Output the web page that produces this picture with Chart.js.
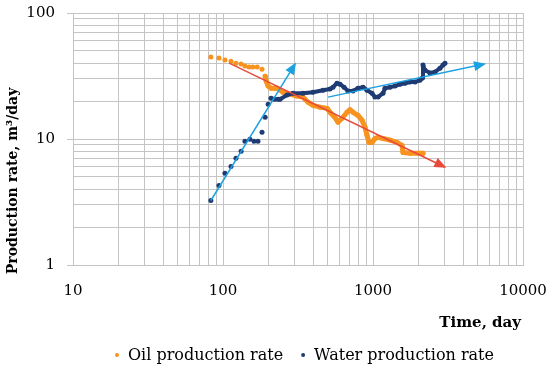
<!DOCTYPE html>
<html><head><meta charset="utf-8">
<script src="https://cdn.jsdelivr.net/npm/chart.js@4"></script>
<style>html,body{margin:0;padding:0;background:#fff;}canvas{display:block;}</style>
</head><body>
<canvas id="c" width="550" height="372"></canvas>
<script>
// ---- data ----
const oilDays = [83,94,103,113,122,132,140,149,158,169,182,191,194,200,209,222,229,251,280,311,341,369,398,443,494,517,541,575,584,622,671,702,736,794,845,885,912,940,985,1031,1080,1166,1298,1445,1561,1585,1765,2056,2154];
const oilRate = [44.7,43.9,42.3,41.5,40.0,39.3,37.9,37.2,37.2,37.2,35.8,31.5,28.8,26.3,25.3,25.3,25.3,23.5,22.7,21.9,21.5,19.6,18.5,17.9,17.5,16.3,15.4,14.1,13.6,14.6,16.3,17.1,16.3,15.4,14.1,12.4,10.7,9.4,9.4,10.1,10.3,10.1,9.8,9.4,8.9,7.8,7.7,7.7,7.7];
const waterDays = [83,94,103,113,122,132,140,151,161,171,182,191,200,209,219,233,240,267,293,341,398,464,517,541,575,603,641,681,736,794,858,912,985,1031,1080,1166,1202,1298,1402,1514,1634,1765,1905,2056,2122,2154,2222,2399,2590,2797,2929,3020];
const waterRate = [3.25,4.28,5.34,6.06,7.02,7.98,9.59,9.95,9.59,9.59,11.3,14.9,18.9,21.1,20.7,20.7,20.7,22.3,23.1,23.1,23.5,24.4,24.9,25.8,27.7,27.2,25.8,24.0,24.0,25.3,25.8,24.4,23.1,21.5,21.5,23.1,25.3,25.8,26.3,27.2,27.7,28.3,28.3,29.3,30.4,38.6,35.2,33.4,34.0,36.5,38.6,40.0];
const oilTrendDays = [110, 3000];
const oilTrendRate = [40, 6];
const waterTrendEarlyDays = [83, 302];
const waterTrendEarlyRate = [3.25, 39.3];
const waterTrendLateDays = [501, 5500];
const waterTrendLateRate = [21.5, 39.3];
const xDecades = [10, 100, 1000, 10000];
const yDecades = [1, 10, 100];
const xTickLabels = ['10', '100', '1000', '10000'];
const yTickLabels = ['1', '10', '100'];
const seriesNames = ['Oil production rate', 'Water production rate'];
const xTitle = 'Time, day';
const yTitle = 'Production rate, m\u00B3/day';

// ---- styling ----
const FONT = '"DejaVu Serif", serif';
const GRID = '#c4c4c4';
const OIL = '#f7931e';
const WATER = '#1f3b73';
const RED = '#e8493b';
const CYAN = '#1ba1e2';
const OIL_DENSE_FROM = 186;
const WATER_DENSE_FROM = 205;

function toXY(xs, ys) { return xs.map((x, i) => ({x: x, y: ys[i]})); }
function logTicks(decades) {
  const out = [];
  for (let i = 0; i < decades.length - 1; i++) for (let m = 1; m < 10; m++) out.push(decades[i] * m);
  out.push(decades[decades.length - 1]);
  return out;
}
function labelFor(v, decades, labels) {
  const i = decades.findIndex(d => Math.abs(d - v) < 1e-9 * d);
  return i >= 0 ? labels[i] : '';
}
function isDecade(v) { const l = Math.log10(v); return Math.abs(l - Math.round(l)) < 1e-9; }
function zeroPad(s) { s.paddingLeft = 0; s.paddingRight = 0; s.paddingTop = 0; s.paddingBottom = 0; }

const arrowPlugin = {
  id: 'arrowHeads',
  afterDatasetsDraw(chart) {
    const ctx = chart.ctx;
    chart.data.datasets.forEach((ds, i) => {
      if (!ds.arrowHead) return;
      const pts = chart.getDatasetMeta(i).data;
      const a = pts[pts.length - 2], b = pts[pts.length - 1];
      const ang = Math.atan2(b.y - a.y, b.x - a.x);
      ctx.save();
      ctx.translate(b.x, b.y);
      ctx.rotate(ang);
      ctx.beginPath();
      ctx.moveTo(2, 0);
      ctx.lineTo(-10, -5);
      ctx.lineTo(-10, 5);
      ctx.closePath();
      ctx.fillStyle = ds.borderColor;
      ctx.fill();
      ctx.restore();
    });
  }
};

const textPlugin = {
  id: 'texts',
  afterDraw(chart) {
    const ctx = chart.ctx;
    const area = chart.chartArea;
    ctx.save();
    ctx.fillStyle = '#000';
    // y title
    ctx.save();
    ctx.translate(13, 181);
    ctx.rotate(-Math.PI / 2);
    ctx.font = 'bold 14px ' + FONT;
    ctx.textAlign = 'center';
    ctx.textBaseline = 'middle';
    ctx.fillText(yTitle, 0, 0);
    ctx.restore();
    // x title
    ctx.font = 'bold 15px ' + FONT;
    ctx.textAlign = 'right';
    ctx.textBaseline = 'middle';
    ctx.fillText(xTitle, area.right - 2, 323);
    // legend
    ctx.font = '16px ' + FONT;
    const w1 = ctx.measureText(seriesNames[0]).width;
    const w2 = ctx.measureText(seriesNames[1]).width;
    const total = 12 + w1 + 20 + 11 + w2;
    let x = 304 - total / 2 + 2;
    const y = 355;
    const colors = [OIL, WATER];
    const ws = [w1, w2];
    ctx.textAlign = 'left';
    for (let k = 0; k < 2; k++) {
      ctx.beginPath();
      ctx.arc(x, y, 2, 0, Math.PI * 2);
      ctx.fillStyle = colors[k];
      ctx.fill();
      ctx.fillStyle = '#000';
      ctx.fillText(seriesNames[k], x + 11, y + 1);
      x += 11 + ws[k] + 20;
    }
    ctx.restore();
  }
};

new Chart(document.getElementById('c'), {
  type: 'scatter',
  data: {
    datasets: [
      {label: 'oil trend', data: toXY(oilTrendDays, oilTrendRate), showLine: true, borderColor: RED, backgroundColor: RED, borderWidth: 1.5, pointRadius: 0, arrowHead: true, order: 0},
      {label: 'water trend early', data: toXY(waterTrendEarlyDays, waterTrendEarlyRate), showLine: true, borderColor: CYAN, backgroundColor: CYAN, borderWidth: 1.5, pointRadius: 0, arrowHead: true, order: 0},
      {label: 'water trend late', data: toXY(waterTrendLateDays, waterTrendLateRate), showLine: true, borderColor: CYAN, backgroundColor: CYAN, borderWidth: 1.5, pointRadius: 0, arrowHead: true, order: 0},
      {label: seriesNames[1], data: toXY(waterDays, waterRate), showLine: true, borderColor: WATER, backgroundColor: WATER,
        pointRadius: 2.5, pointBorderWidth: 0, borderWidth: 4, borderJoinStyle: 'round', borderCapStyle: 'round',
        segment: {borderColor: c => c.p0.parsed.x < WATER_DENSE_FROM ? 'transparent' : WATER}, order: 1},
      {label: seriesNames[0], data: toXY(oilDays, oilRate), showLine: true, borderColor: OIL, backgroundColor: OIL,
        pointRadius: 2.5, pointBorderWidth: 0, borderWidth: 5, borderJoinStyle: 'round', borderCapStyle: 'round',
        segment: {borderColor: c => c.p0.parsed.x < OIL_DENSE_FROM ? 'transparent' : OIL}, order: 2}
    ]
  },
  options: {
    responsive: false,
    animation: false,
    devicePixelRatio: 1,
    layout: {padding: {top: 13, right: 27, left: 0, bottom: 0}},
    plugins: {legend: {display: false}, tooltip: {enabled: false}},
    scales: {
      x: {
        type: 'logarithmic', min: xDecades[0], max: xDecades[xDecades.length - 1], position: 'bottom',
        afterBuildTicks: s => { s.ticks = logTicks(xDecades).map(v => ({value: v, major: isDecade(v)})); },
        afterFit: s => { s.height = 107; zeroPad(s); },
        grid: {color: GRID, lineWidth: 1, drawTicks: false},
        border: {color: GRID},
        ticks: {autoSkip: false, maxRotation: 0, padding: 17, color: '#000', font: {family: FONT, size: 15},
          callback: v => labelFor(v, xDecades, xTickLabels)}
      },
      y: {
        type: 'logarithmic', min: yDecades[0], max: yDecades[yDecades.length - 1],
        afterBuildTicks: s => { s.ticks = logTicks(yDecades).map(v => ({value: v, major: isDecade(v)})); },
        afterFit: s => { s.width = 73; zeroPad(s); },
        grid: {color: GRID, lineWidth: 1, tickLength: 6, tickColor: c => (c.tick && isDecade(c.tick.value)) ? GRID : 'transparent'},
        border: {color: GRID},
        ticks: {autoSkip: false, padding: 12, color: '#000', font: {family: FONT, size: 15},
          callback: v => labelFor(v, yDecades, yTickLabels)}
      }
    }
  },
  plugins: [arrowPlugin, textPlugin]
});
</script>
</body></html>
